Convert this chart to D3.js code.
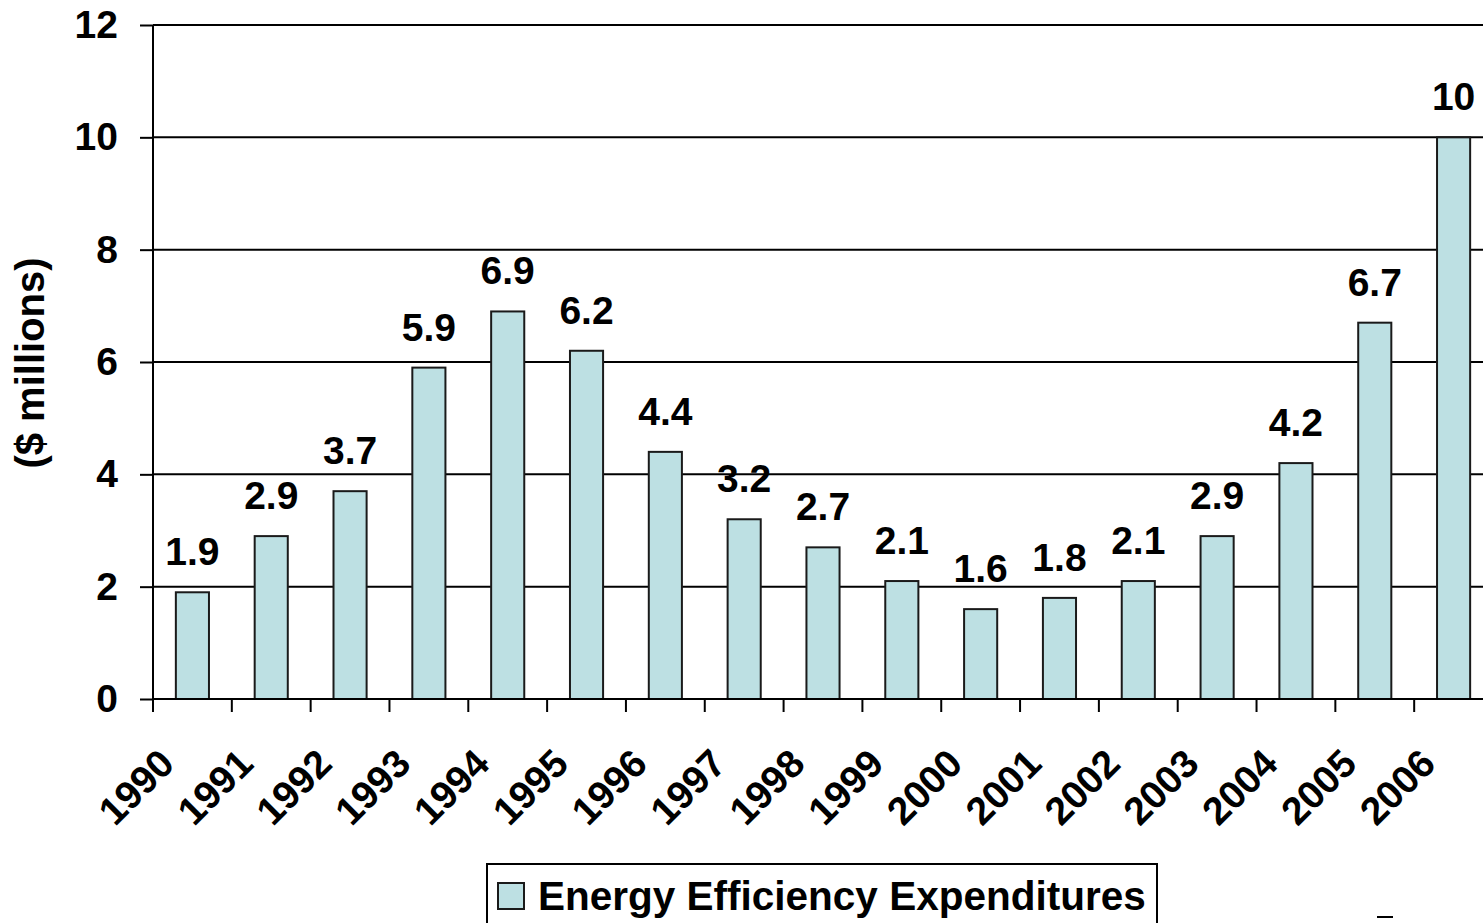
<!DOCTYPE html>
<html>
<head>
<meta charset="utf-8">
<script src="https://cdn.jsdelivr.net/npm/d3@7"></script>
<style>
  html, body { margin: 0; padding: 0; background: #fff; overflow: hidden; }
  svg { display: block; }
  text { font-family: "Liberation Sans", Arial, sans-serif; font-weight: bold; fill: #000; }
</style>
</head>
<body>
<svg id="chart" width="1483" height="923"></svg>
<script>
const years = ["1990","1991","1992","1993","1994","1995","1996","1997","1998","1999","2000","2001","2002","2003","2004","2005","2006"];
const values = [1.9, 2.9, 3.7, 5.9, 6.9, 6.2, 4.4, 3.2, 2.7, 2.1, 1.6, 1.8, 2.1, 2.9, 4.2, 6.7, 10];
const labels = ["1.9","2.9","3.7","5.9","6.9","6.2","4.4","3.2","2.7","2.1","1.6","1.8","2.1","2.9","4.2","6.7","10"];
const yTicks = [0, 2, 4, 6, 8, 10, 12];
const seriesName = "Energy Efficiency Expenditures";
const yTitle = "($ millions)";

(function () {
const svg = d3.select("#chart");
const fs = 39;
const pLeft = 153, pRight = 1493, pTop = 25, pBottom = 699;

const x = d3.scaleBand().domain(years).range([pLeft, pRight]).padding(0);
const y = d3.scaleLinear().domain([0, 12]).range([pBottom, pTop]);
const barW = x.bandwidth() * 0.42;

// gridlines
svg.append("g").selectAll("line").data(yTicks.filter(d => d > 0)).join("line")
  .attr("x1", pLeft).attr("x2", pRight)
  .attr("y1", d => y(d)).attr("y2", d => y(d))
  .attr("stroke", "#000").attr("stroke-width", 2);

// bars
svg.append("g").selectAll("rect").data(values).join("rect")
  .attr("x", (d, i) => x(years[i]) + x.bandwidth() / 2 - barW / 2)
  .attr("y", d => y(d))
  .attr("width", barW)
  .attr("height", d => y(0) - y(d))
  .attr("fill", "#bde0e3")
  .attr("stroke", "#1a1a1a").attr("stroke-width", 2);

// y axis
const yAxis = d3.axisLeft(y).tickValues(yTicks).tickSize(13).tickPadding(22).tickFormat(d3.format("d"));
const gy = svg.append("g").attr("transform", `translate(${pLeft},0)`).call(yAxis);
gy.select(".domain").attr("stroke", "#000").attr("stroke-width", 2).attr("d", `M0,${pBottom}V${pTop}`);
gy.selectAll(".tick line").attr("stroke", "#000").attr("stroke-width", 2);
gy.selectAll(".tick text").style("font-size", fs + "px").style("font-family", '"Liberation Sans", Arial, sans-serif').style("font-weight", "bold").attr("fill", "#000");

// x axis (ticks at band boundaries)
const boundaries = years.map(yr => x(yr)).concat([pRight]);
const gx = svg.append("g");
gx.append("line").attr("x1", pLeft).attr("x2", pRight).attr("y1", pBottom).attr("y2", pBottom)
  .attr("stroke", "#000").attr("stroke-width", 2);
gx.selectAll("line.tk").data(boundaries).join("line").attr("class", "tk")
  .attr("x1", d => d).attr("x2", d => d).attr("y1", pBottom).attr("y2", pBottom + 13)
  .attr("stroke", "#000").attr("stroke-width", 2);
gx.selectAll("text").data(years).join("text")
  .attr("text-anchor", "end")
  .style("font-size", fs + "px")
  .attr("transform", d => `translate(${x(d) + x.bandwidth() / 2 - 16},766) rotate(-45)`)
  .text(d => d);

// data labels
svg.append("g").selectAll("text").data(values).join("text")
  .attr("x", (d, i) => x(years[i]) + x.bandwidth() / 2)
  .attr("y", d => y(d) - 27)
  .attr("text-anchor", "middle")
  .style("font-size", fs + "px")
  .text((d, i) => labels[i]);

// y title
svg.append("text")
  .attr("transform", `translate(30,363) rotate(-90)`)
  .attr("text-anchor", "middle")
  .attr("dominant-baseline", "central")
  .style("font-size", "40px")
  .text(yTitle);

// legend
const lg = svg.append("g");
lg.append("rect").attr("x", 487).attr("y", 864).attr("width", 670).attr("height", 70)
  .attr("fill", "#fff").attr("stroke", "#000").attr("stroke-width", 2);
lg.append("rect").attr("x", 498).attr("y", 883).attr("width", 26).attr("height", 26)
  .attr("fill", "#bde0e3").attr("stroke", "#1a1a1a").attr("stroke-width", 2);
lg.append("text").attr("x", 538).attr("y", 910).style("font-size", "40.5px").text(seriesName);

// small cut-off mark at bottom right
svg.append("line").attr("x1", 1377).attr("x2", 1393).attr("y1", 917).attr("y2", 917)
  .attr("stroke", "#000").attr("stroke-width", 2);
})();
</script>
</body>
</html>
